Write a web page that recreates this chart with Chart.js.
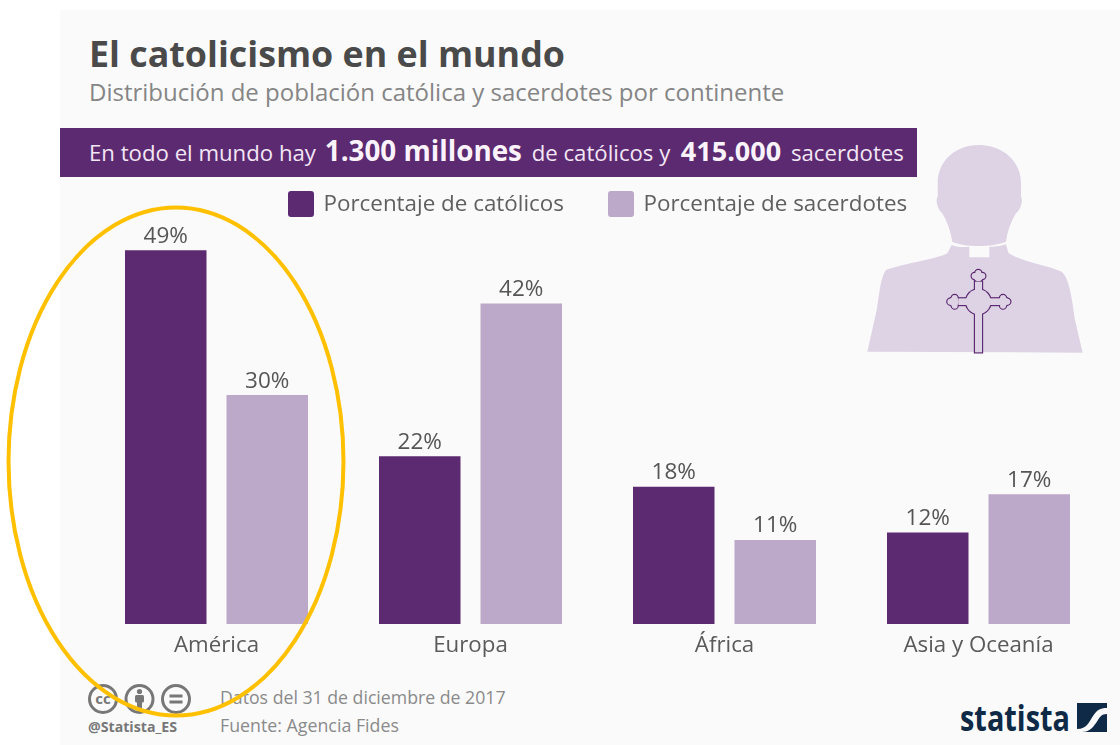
<!DOCTYPE html>
<html lang="es">
<head>
<meta charset="utf-8">
<title>El catolicismo en el mundo</title>
<script src="https://cdn.jsdelivr.net/npm/chart.js@4"></script>
<style>
html,body{margin:0;padding:0;background:#fff;width:1120px;height:745px;overflow:hidden}
body{position:relative;font-family:"Open Sans",sans-serif}
#panel{position:absolute;left:60px;top:10px;width:1060px;height:735px;background:#fafafa}
#banner{position:absolute;left:60px;top:128px;width:857px;height:49px;background:#5c2a70}
.t{position:absolute;white-space:nowrap;line-height:1}
canvas{position:absolute;left:0;top:0}
svg{position:absolute;left:0;top:0}
</style>
</head>
<body>
<div id="panel"></div>
<div id="banner"></div>
<svg width="1120" height="745" viewBox="0 0 1120 745">
  <g transform="translate(860 130) scale(.33333)">
    <path fill="#ded3e5" d="M355 45C425 45 483 90 483 160L483 200C490 210 482 240 468 250C452 275 442 305 438 335C400 352 310 352 277 335C272 305 262 275 247 250C233 240 225 210 233 200L233 160C233 90 290 45 355 45Z"/>
    <path fill="#ded3e5" d="M275 345C300 355 320 350 328 350L328 382L388 382L388 350C400 350 420 350 438 342L445 368C480 395 560 405 605 425C628 445 635 500 645 570L668 668L22 665L50 540C58 490 62 440 78 420C130 400 220 390 262 370Z"/>
    <g fill="#5c2a70" stroke="#5c2a70" stroke-width="7">
      <circle cx="355" cy="515" r="37"/><rect x="345" y="455" width="21" height="212"/><rect x="295" y="505" width="125" height="20"/>
      <circle cx="355" cy="440" r="14"/><circle cx="344" cy="438" r="9"/><circle cx="367" cy="438" r="9"/><circle cx="355" cy="429" r="9"/>
      <circle cx="282" cy="515" r="14"/><circle cx="284" cy="504" r="9"/><circle cx="284" cy="527" r="9"/><circle cx="271" cy="515" r="9"/>
      <circle cx="431" cy="515" r="14"/><circle cx="429" cy="504" r="9"/><circle cx="429" cy="527" r="9"/><circle cx="442" cy="515" r="9"/>
    </g>
    <g fill="#ded3e5">
      <circle cx="355" cy="515" r="37"/><rect x="345" y="455" width="21" height="212"/><rect x="295" y="505" width="125" height="20"/>
      <circle cx="355" cy="440" r="14"/><circle cx="344" cy="438" r="9"/><circle cx="367" cy="438" r="9"/><circle cx="355" cy="429" r="9"/>
      <circle cx="282" cy="515" r="14"/><circle cx="284" cy="504" r="9"/><circle cx="284" cy="527" r="9"/><circle cx="271" cy="515" r="9"/>
      <circle cx="431" cy="515" r="14"/><circle cx="429" cy="504" r="9"/><circle cx="429" cy="527" r="9"/><circle cx="442" cy="515" r="9"/>
    </g>
  </g>
  <g fill="none" stroke="#777" stroke-width="3">
    <circle cx="103" cy="699" r="13.5"/><circle cx="139.500" cy="699" r="13.5"/><circle cx="176" cy="699" r="13.5"/>
  </g>
  <text x="103" y="704" text-anchor="middle" font-family="Open Sans" font-weight="700" font-size="15" fill="#777">cc</text>
  <g fill="#777">
    <circle cx="139.500" cy="691.500" r="2.600"/><rect x="135" y="695" width="9" height="7.500" rx="1.500"/><rect x="137" y="701" width="5" height="7"/>
    <rect x="169.500" y="694.500" width="13" height="3"/><rect x="169.500" y="700.500" width="13" height="3"/>
  </g>
  <text x="88" y="732" font-family="Open Sans" font-weight="700" font-size="13.500" fill="#777" textLength="89" lengthAdjust="spacingAndGlyphs">@Statista_ES</text>
  <text x="960" y="731" font-family="Open Sans" font-weight="700" font-size="35" fill="#0f2a47" textLength="110" lengthAdjust="spacingAndGlyphs">statista</text>
  <rect x="1077" y="703" width="30" height="29" fill="#0f2a47"/>
  <path d="M1077 729C1087 729 1089 722 1093 716C1097 710 1100 708 1107 708L1107 714C1101 714 1100 717 1096 723C1092 729 1088 732 1082 732L1077 732Z" fill="#fafafa"/>
</svg>
<div class="t" style="left:89px;top:36px;font-size:35.800px;font-weight:700;color:#4a4a4a">El catolicismo en el mundo</div>
<div class="t" style="left:89px;top:80px;font-size:24px;color:#858585">Distribución de población católica y sacerdotes por continente</div>
<div class="t" style="left:89px;top:137px;font-size:22.200px;color:#f3e6f6">En todo el mundo hay <b style="font-size:27.800px;color:#fbf3fc;margin-left:3px;margin-right:4px">1.300 millones</b> de católicos y&nbsp; <b style="font-size:27px;color:#fbf3fc;margin-left:-1px;margin-right:4px">415.000</b> sacerdotes</div>
<div class="t" style="left:220px;top:689px;font-size:17.700px;color:#8a8a8a">Datos del 31 de diciembre de 2017</div>
<div class="t" style="left:220px;top:717px;font-size:17.800px;color:#8a8a8a">Fuente: Agencia Fides</div>
<canvas id="c" width="1120" height="745"></canvas>
<svg width="1120" height="745" viewBox="0 0 1120 745" style="pointer-events:none">
  <ellipse cx="176" cy="461.500" rx="167.500" ry="254" fill="none" stroke="#ffc000" stroke-width="4"/>
</svg>
<script>
const categories = ["América", "Europa", "África", "Asia y Oceanía"];
const catolicos = [49, 22, 18, 12];
const sacerdotes = [30, 42, 11, 17];
const seriesNames = ["Porcentaje de católicos", "Porcentaje de sacerdotes"];
const seriesColors = ["#5c2a70", "#bca8c8"];
const legendBoxes = [288, 608];

const extras = {
  id: "extras",
  afterDatasetsDraw(chart) {
    const ctx = chart.ctx;
    ctx.save();
    ctx.font = '22.5px "Open Sans"';
    ctx.fillStyle = "#555";
    ctx.textAlign = "center";
    ctx.textBaseline = "middle";
    chart.data.datasets.forEach((ds, i) => {
      chart.getDatasetMeta(i).data.forEach((bar, j) => {
        ctx.fillText(ds.data[j] + "%", bar.x, bar.y - 14);
      });
    });
    ctx.textAlign = "left";
    ctx.font = '22.4px "Open Sans"';
    chart.data.datasets.forEach((ds, i) => {
      const x = legendBoxes[i];
      ctx.fillStyle = ds.backgroundColor;
      ctx.beginPath();
      ctx.roundRect(x, 191, 26, 26, 3);
      ctx.fill();
      ctx.fillStyle = "#606060";
      ctx.fillText(ds.label, x + 35.5, 205);
    });
    ctx.restore();
  }
};

new Chart(document.getElementById("c"), {
  type: "bar",
  data: {
    labels: categories,
    datasets: [
      { label: seriesNames[0], data: catolicos, backgroundColor: seriesColors[0] },
      { label: seriesNames[1], data: sacerdotes, backgroundColor: seriesColors[1] }
    ]
  },
  options: {
    responsive: false,
    animation: false,
    devicePixelRatio: 1,
    layout: { padding: { left: 89.5, right: 14.5, top: 242.5, bottom: 0 } },
    plugins: { legend: { display: false }, title: { display: false }, tooltip: { enabled: false } },
    datasets: { bar: { categoryPercentage: 0.7992, barPercentage: 0.803, borderWidth: 0 } },
    scales: {
      x: {
        grid: { display: false },
        border: { display: false },
        afterFit(s) { s.height = 121; },
        ticks: { color: "#5a5a5a", padding: 0, maxRotation: 0, font: { family: "Open Sans", size: 22.3 } }
      },
      y: { display: false, min: 0, max: 50 }
    }
  },
  plugins: [extras]
});
</script>
</body>
</html>
